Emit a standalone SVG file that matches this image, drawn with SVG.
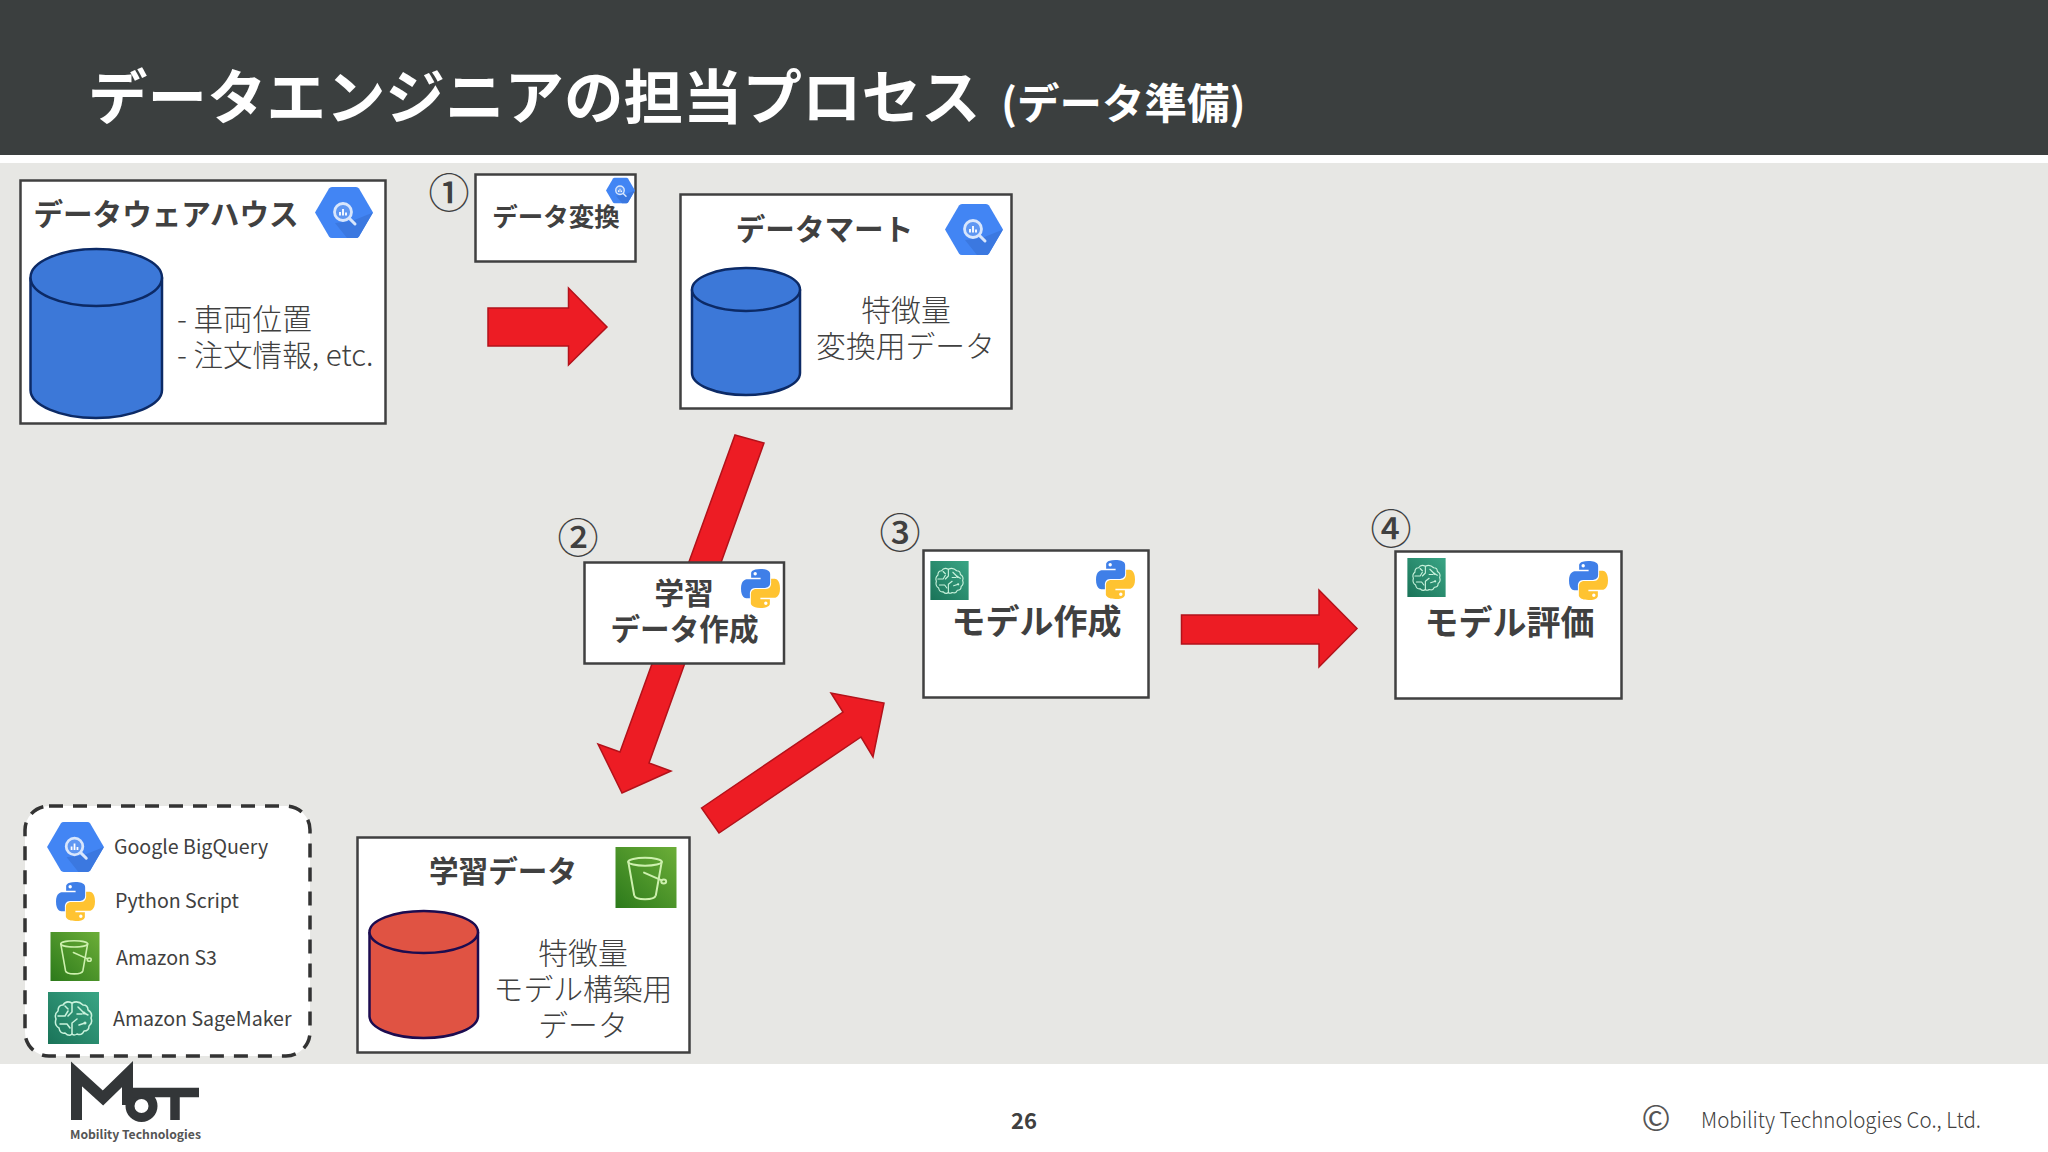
<svg xmlns="http://www.w3.org/2000/svg" width="2048" height="1152" viewBox="0 0 2048 1152">
<style>
text{font-family:"Noto Sans CJK JP","Noto Sans",sans-serif;fill:#404040}
.box{fill:#fff;stroke:#404040;stroke-width:2.5}
.arrow{fill:#ed1c24;stroke:#b3121a;stroke-width:1.5}
.h{font-weight:700;font-size:29.6px;text-anchor:middle}
.h2{font-weight:700;font-size:34px;text-anchor:middle}
.l{font-weight:300;font-size:29.6px}
.m{font-weight:300;font-size:29.8px;text-anchor:middle}
.num{font-size:41px;text-anchor:middle;font-weight:500}
.lg{font-size:19.6px;font-weight:400}
.cb{fill:#3c78d8;stroke:#0c2a66;stroke-width:2.5}
.cr{fill:#e05343;stroke:#1c0c50;stroke-width:2.5}
.ic{fill:none;stroke:#c9f2dc;stroke-width:1.5;stroke-linecap:round;stroke-linejoin:round}
.is{fill:none;stroke:#cdf0ae;stroke-width:2;stroke-linecap:round;stroke-linejoin:round}
</style>
<defs>
<linearGradient id="gs" x1="0" y1="1" x2="1" y2="0"><stop offset="0" stop-color="#1a7358"/><stop offset="1" stop-color="#3aa585"/></linearGradient>
<linearGradient id="g3" x1="0" y1="1" x2="1" y2="0"><stop offset="0" stop-color="#2c7a1b"/><stop offset="1" stop-color="#6cae38"/></linearGradient>
<symbol id="bq" viewBox="0 0 58 51">
<path d="M0 25.500L14 1.500Q15 0 17 0H41Q43 0 44 1.500L58 25.500L44 49.500Q43 51 41 51H17Q15 51 14 49.500Z" fill="#4285f4"/>
<path d="M37 34L58 25.500L44 49.500Q43 51 41 51H32L20 36Z" fill="#3b78e0"/>
<circle cx="28" cy="25" r="8.500" fill="#5f97f2" stroke="#d8e6fc" stroke-width="2.800"/>
<path d="M34.500 31.500L40 37" stroke="#d8e6fc" stroke-width="3" stroke-linecap="round"/>
<path d="M25 25V28.500M28 22V28.500M31 25.500V28.500" stroke="#fff" stroke-width="1.800"/>
</symbol>
<symbol id="py" viewBox="0 0 110 110">
<path fill="#3f7fe8" fill-rule="evenodd" d="M54.900 0C26.900 0 28.600 12.200 28.600 12.200L28.600 24.800H55.300V28.600H18S0 26.500 0 55C0 83.500 15.700 82.500 15.700 82.500H25.100V69.300S24.600 53.600 40.600 53.600H67.200S82.200 53.800 82.200 39.100V14.500S84.500 0 54.900 0ZM40 8.500A4.800 4.800 0 1 1 40 18.100A4.800 4.800 0 0 1 40 8.500Z"/>
<path fill="#ffc331" fill-rule="evenodd" transform="rotate(180 55 55)" d="M54.900 0C26.900 0 28.600 12.200 28.600 12.200L28.600 24.800H55.300V28.600H18S0 26.500 0 55C0 83.500 15.700 82.500 15.700 82.500H25.100V69.300S24.600 53.600 40.600 53.600H67.200S82.200 53.800 82.200 39.100V14.500S84.500 0 54.900 0ZM40 8.500A4.800 4.800 0 1 1 40 18.100A4.800 4.800 0 0 1 40 8.500Z"/>
</symbol>
<symbol id="s3" viewBox="0 0 62 62">
<rect width="62" height="62" fill="url(#g3)"/>
<ellipse class="is" cx="30" cy="15" rx="17" ry="4"/>
<path class="is" d="M13 15L19 49Q20 53 30 53Q40 53 41 49L47 15"/>
<path class="is" d="M29 26L47 34"/><ellipse class="is" cx="49" cy="35" rx="2.500" ry="2"/>
</symbol>
<symbol id="sm" viewBox="0 0 51 52">
<rect width="51" height="52" fill="url(#gs)"/>
<path class="ic" d="M24 11Q18 8 15 13Q10 13 10 19Q6 22 8 27Q6 33 11 36Q12 42 17 41Q21 45 24 42Q26 44 29 42Q34 44 36 39Q41 39 41 34Q45 31 43 26Q45 21 40 18Q40 13 35 13Q30 8 24 11Z"/>
<path class="ic" d="M24 11V20L20 24M24 42V31L29 27M10 24H17L20 19M12 32H19L22 36M17 14L20 17M30 15L36 21L40 23M29 22H34M31 33L37 31"/>
<circle cx="36" cy="21" r="1.500" fill="#c9f2dc"/><circle cx="37" cy="31" r="1.500" fill="#c9f2dc"/>
</symbol>
</defs>
<rect width="2048" height="1152" fill="#fff"/>
<rect width="2048" height="155" fill="#3b3f3f"/>
<rect y="163" width="2048" height="901" fill="#e7e7e4"/>
<text x="88" y="119" font-size="59.500" font-weight="700" style="fill:#fff">データエンジニアの担当プロセス</text>
<text x="1001" y="119" font-size="42.500" font-weight="700" style="fill:#fff">(データ準備)</text>

<g id="connectors">
<path class="arrow" d="M488 308H568.500V288L607 327L568.500 365V346H488Z"/>
<path class="arrow" d="M735 435L764 443L649 763L671 771L622 793L598 744L620 752Z"/>
<path class="arrow" d="M701.500 808L843 712L831 693L884 703L873 757L861 737L719 833Z"/>
<path class="arrow" d="M1181.500 615H1319V590L1357 628.500L1319 667V644H1181.500Z"/>
</g>

<g id="warehouse">
<rect class="box" x="20.500" y="180.500" width="365" height="243"/>
<text class="h" x="166" y="225">データウェアハウス</text>
<use href="#bq" x="315" y="187" width="58" height="51"/>
<path class="cb" d="M30.500 277.500V390C30.500 405 60 418 96 418S162 405 162 390V277.500"/>
<ellipse class="cb" cx="96.250" cy="277.500" rx="65.750" ry="28.500"/>
<text class="l" x="177" y="330">- 車両位置</text>
<text class="l" x="177" y="366">- 注文情報, etc.</text>
</g>

<g id="transform">
<text class="num" x="449" y="208">①</text>
<rect class="box" x="475.500" y="174.500" width="160" height="87"/>
<use href="#bq" x="606" y="177" width="29" height="27"/>
<text x="556" y="226" font-size="25.500" font-weight="700" text-anchor="middle">データ変換</text>
</g>

<g id="mart">
<rect class="box" x="680.500" y="194.500" width="331" height="214"/>
<text class="h" x="824.500" y="240">データマート</text>
<use href="#bq" x="945" y="204" width="58" height="51"/>
<path class="cb" d="M692 289.500V373C692 385 716 395 746 395S800 385 800 373V289.500"/>
<ellipse class="cb" cx="746" cy="289.500" rx="54" ry="21.500"/>
<text class="m" x="906" y="321">特徴量</text>
<text class="m" x="905.500" y="357">変換用データ</text>
</g>

<g id="create">
<text class="num" x="578" y="553">②</text>
<rect class="box" x="584.500" y="562.500" width="199.500" height="101"/>
<use href="#py" x="741" y="569" width="39" height="39"/>
<text class="h" x="684" y="604">学習</text>
<text class="h" x="684.500" y="640">データ作成</text>
</g>

<g id="training">
<rect class="box" x="357.500" y="837.500" width="332" height="215"/>
<text class="h" x="503" y="882">学習データ</text>
<use href="#s3" x="615" y="847" width="62" height="61"/>
<path class="cr" d="M369.500 932V1016C369.500 1028 393 1038 423.500 1038S478 1028 478 1016V932"/>
<ellipse class="cr" cx="423.750" cy="932" rx="54.250" ry="21"/>
<text class="m" x="583" y="964">特徴量</text>
<text class="m" x="583" y="1000">モデル構築用</text>
<text class="m" x="583" y="1036">データ</text>
</g>

<g id="model">
<text class="num" x="900" y="548">③</text>
<rect class="box" x="923.500" y="550.500" width="225" height="147"/>
<use href="#sm" x="930" y="561" width="39" height="39"/>
<use href="#py" x="1096" y="560" width="39" height="39"/>
<text class="h2" x="1036.500" y="634">モデル作成</text>
</g>

<g id="evaluate">
<text class="num" x="1391" y="544">④</text>
<rect class="box" x="1395.500" y="551.500" width="226" height="147"/>
<use href="#sm" x="1407" y="558" width="39" height="39"/>
<use href="#py" x="1569" y="561" width="39" height="39"/>
<text class="h2" x="1509.500" y="635">モデル評価</text>
</g>

<g id="legend">
<rect x="25" y="806" width="285" height="250" rx="24" fill="#fff" stroke="#333" stroke-width="3.500" stroke-dasharray="14 10"/>
<use href="#bq" x="47" y="822" width="57" height="50"/>
<text class="lg" x="114" y="854">Google BigQuery</text>
<use href="#py" x="56" y="882" width="39" height="39"/>
<text class="lg" x="115" y="908">Python Script</text>
<use href="#s3" x="50" y="932" width="50" height="49"/>
<text class="lg" x="116" y="965">Amazon S3</text>
<use href="#sm" x="48" y="992" width="51" height="52"/>
<text class="lg" x="113" y="1026">Amazon SageMaker</text>
</g>

<g id="logo">
<path d="M76.500 1120V1074L103 1098L127.500 1074V1105" fill="none" stroke="#333638" stroke-width="11"/>
<circle cx="141.500" cy="1106" r="11.500" fill="none" stroke="#333638" stroke-width="9"/>
<path d="M133 1092.500H199M175 1092.500V1120" fill="none" stroke="#333638" stroke-width="9.500"/>
<text x="70" y="1139" font-size="12.200" font-weight="700" style="fill:#555">Mobility Technologies</text>
</g>

<g id="footer">
<text x="1024" y="1129" font-size="22" font-weight="700" text-anchor="middle">26</text>
<text x="1656" y="1131" font-size="35" font-weight="400" text-anchor="middle" style="fill:#555">©</text>
<text x="1701" y="1128" font-size="22" font-weight="300" textLength="280" lengthAdjust="spacingAndGlyphs">Mobility Technologies Co., Ltd.</text>
</g>
</svg>
